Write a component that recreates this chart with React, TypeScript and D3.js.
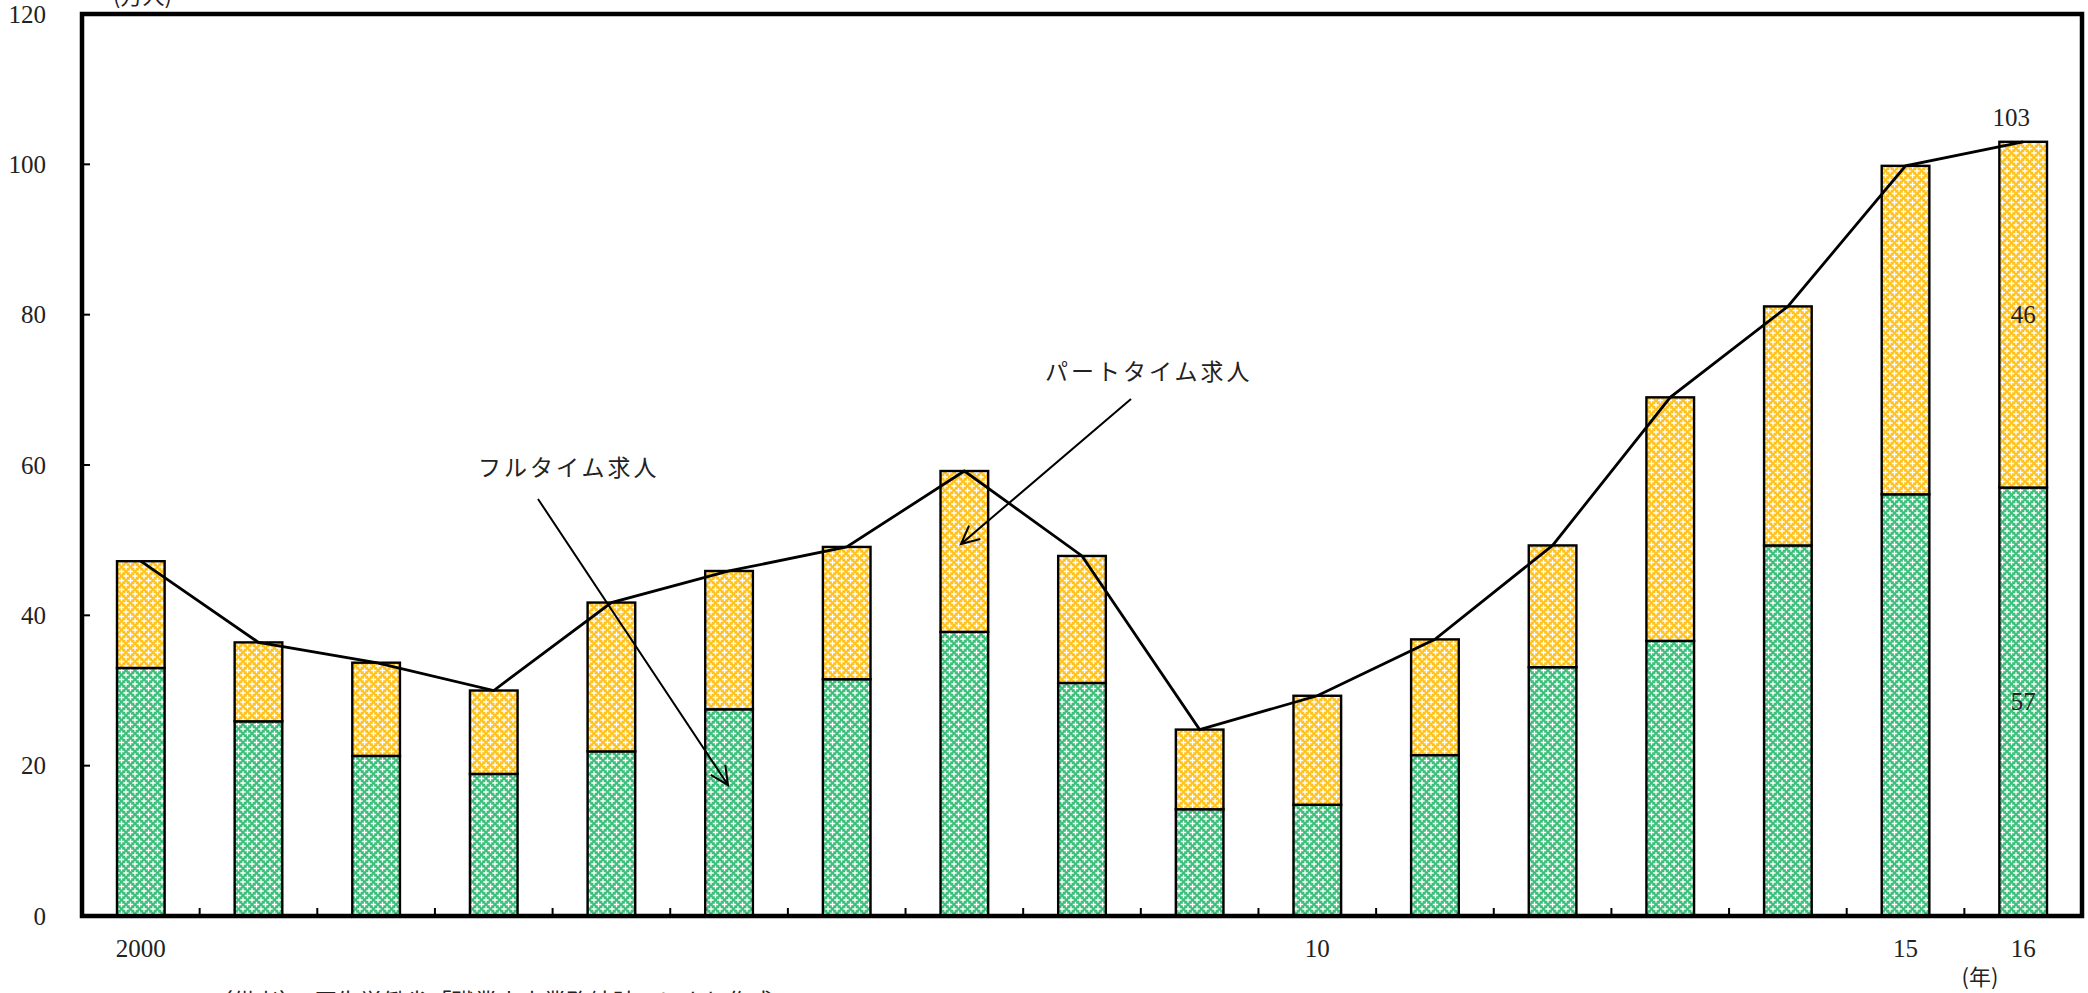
import React from "react";
import * as d3 from "d3";

const years = ["2000","2001","2002","2003","2004","2005","2006","2007","2008","2009","2010","2011","2012","2013","2014","2015","2016"];
const fullTime = [33.0, 25.9, 21.3, 18.9, 21.9, 27.5, 31.5, 37.8, 31.0, 14.2, 14.8, 21.4, 33.1, 36.6, 49.3, 56.1, 57.0];
const partTime = [14.2, 10.5, 12.4, 11.1, 19.8, 18.4, 17.6, 21.4, 16.9, 10.6, 14.5, 15.4, 16.2, 32.4, 31.8, 43.7, 46.0];
const yTicks = [0, 20, 40, 60, 80, 100, 120];
const xTickLabels: Record<string, string> = { "2000": "2000", "2010": "10", "2015": "15", "2016": "16" };

const W = 2088, H = 993;
const L = 82, R = 2082, T = 14, B = 916;
const FONT = '"Liberation Serif", "DejaVu Serif", "Noto Sans CJK JP", serif';
const JFONT = '"Noto Sans CJK JP", "Liberation Serif", serif';

export default function App() {
  const x = d3.scaleBand<string>().domain(years).range([L, R]).paddingInner(0).paddingOuter(0);
  const y = d3.scaleLinear().domain([0, 120]).range([B, T]);
  const bw = x.bandwidth();
  const barW = bw * 0.405;
  const cx = (yr: string) => (x(yr) as number) + bw / 2;
  const totals = years.map((_, i) => fullTime[i] + partTime[i]);
  const line = d3.line<number>().x((_, i) => cx(years[i])).y((d) => y(d));
  const last = years.length - 1;

  const arrowHead = (x1: number, y1: number, x2: number, y2: number) => {
    const a = Math.atan2(y2 - y1, x2 - x1);
    const len = 20, sp = 0.45;
    const p1 = [x2 - len * Math.cos(a - sp), y2 - len * Math.sin(a - sp)];
    const p2 = [x2 - len * Math.cos(a + sp), y2 - len * Math.sin(a + sp)];
    return `M${x1},${y1}L${x2},${y2}M${p1[0]},${p1[1]}L${x2},${y2}L${p2[0]},${p2[1]}`;
  };

  const plusTile = (id: string, bg: string) => (
    <pattern id={id} width={9} height={9} patternUnits="userSpaceOnUse">
      <rect width={9} height={9} fill={bg} />
      <path d="M4.5,1.8V7.2M1.8,4.5H7.2M0,-2.7V2.7M-2.7,0H2.7M9,-2.7V2.7M6.3,0H11.7M0,6.3V11.7M-2.7,9H2.7M9,6.3V11.7M6.3,9H11.7" stroke="#fff" strokeWidth={1.3} />
    </pattern>
  );

  return (
    <svg width={W} height={H} style={{ position: "absolute", left: 0, top: 0, overflow: "hidden", background: "#fff" }}>
      <defs>
        {plusTile("pGreen", "#3dbf7b")}
        {plusTile("pYellow", "#ffc21f")}
      </defs>
      <rect x={0} y={0} width={W} height={H} fill="#fff" />

      {years.map((yr, i) => {
        const bx = cx(yr) - barW / 2;
        return (
          <g key={yr}>
            <rect x={bx} y={y(fullTime[i])} width={barW} height={y(0) - y(fullTime[i])} fill="url(#pGreen)" stroke="#000" strokeWidth={2.4} />
            <rect x={bx} y={y(totals[i])} width={barW} height={y(fullTime[i]) - y(totals[i])} fill="url(#pYellow)" stroke="#000" strokeWidth={2.4} />
          </g>
        );
      })}

      <path d={line(totals) as string} fill="none" stroke="#000" strokeWidth={2.8} />

      {yTicks.map((t) => (
        <g key={t}>
          <line x1={L} x2={L + 8} y1={y(t)} y2={y(t)} stroke="#000" strokeWidth={2} />
          <text x={46} y={y(t)} textAnchor="end" dominantBaseline="central" fontFamily={FONT} fontSize={25} fill="#222">{t}</text>
        </g>
      ))}

      {years.slice(1).map((yr) => (
        <line key={yr} x1={x(yr) as number} x2={x(yr) as number} y1={B} y2={B - 8} stroke="#000" strokeWidth={2} />
      ))}
      {years.filter((yr) => xTickLabels[yr]).map((yr) => (
        <text key={yr} x={cx(yr)} y={948} textAnchor="middle" dominantBaseline="central" fontFamily={FONT} fontSize={25} fill="#222">{xTickLabels[yr]}</text>
      ))}
      <text x={1980} y={975} textAnchor="middle" dominantBaseline="central" fontFamily={JFONT} fontSize={22} fill="#222">(年)</text>

      <rect x={L} y={T} width={R - L} height={B - T} fill="none" stroke="#000" strokeWidth={4.5} />

      <text x={113} y={4} fontFamily={JFONT} fontSize={22} fill="#222">(万人)</text>

      <text x={cx(years[last]) - 12} y={117} textAnchor="middle" dominantBaseline="central" fontFamily={FONT} fontSize={25} fill="#222">{Math.round(totals[last])}</text>
      <text x={cx(years[last])} y={y(fullTime[last] + partTime[last] / 2)} textAnchor="middle" dominantBaseline="central" fontFamily={FONT} fontSize={25} fill="#222">{Math.round(partTime[last])}</text>
      <text x={cx(years[last])} y={y(fullTime[last] / 2)} textAnchor="middle" dominantBaseline="central" fontFamily={FONT} fontSize={25} fill="#222">{Math.round(fullTime[last])}</text>

      <text x={478} y={466} dominantBaseline="central" fontFamily={JFONT} fontSize={23} letterSpacing={3} fill="#222">フルタイム求人</text>
      <path d={arrowHead(538, 499, 728, 785)} fill="none" stroke="#000" strokeWidth={2} />
      <text x={1045} y={370} dominantBaseline="central" fontFamily={JFONT} fontSize={23} letterSpacing={3} fill="#222">パートタイム求人</text>
      <path d={arrowHead(1131, 399, 961, 544)} fill="none" stroke="#000" strokeWidth={2} />

      <text x={210} y={1010} fontFamily={JFONT} fontSize={23} fill="#222">（備考）　厚生労働省「職業安定業務統計」により作成。</text>
    </svg>
  );
}
